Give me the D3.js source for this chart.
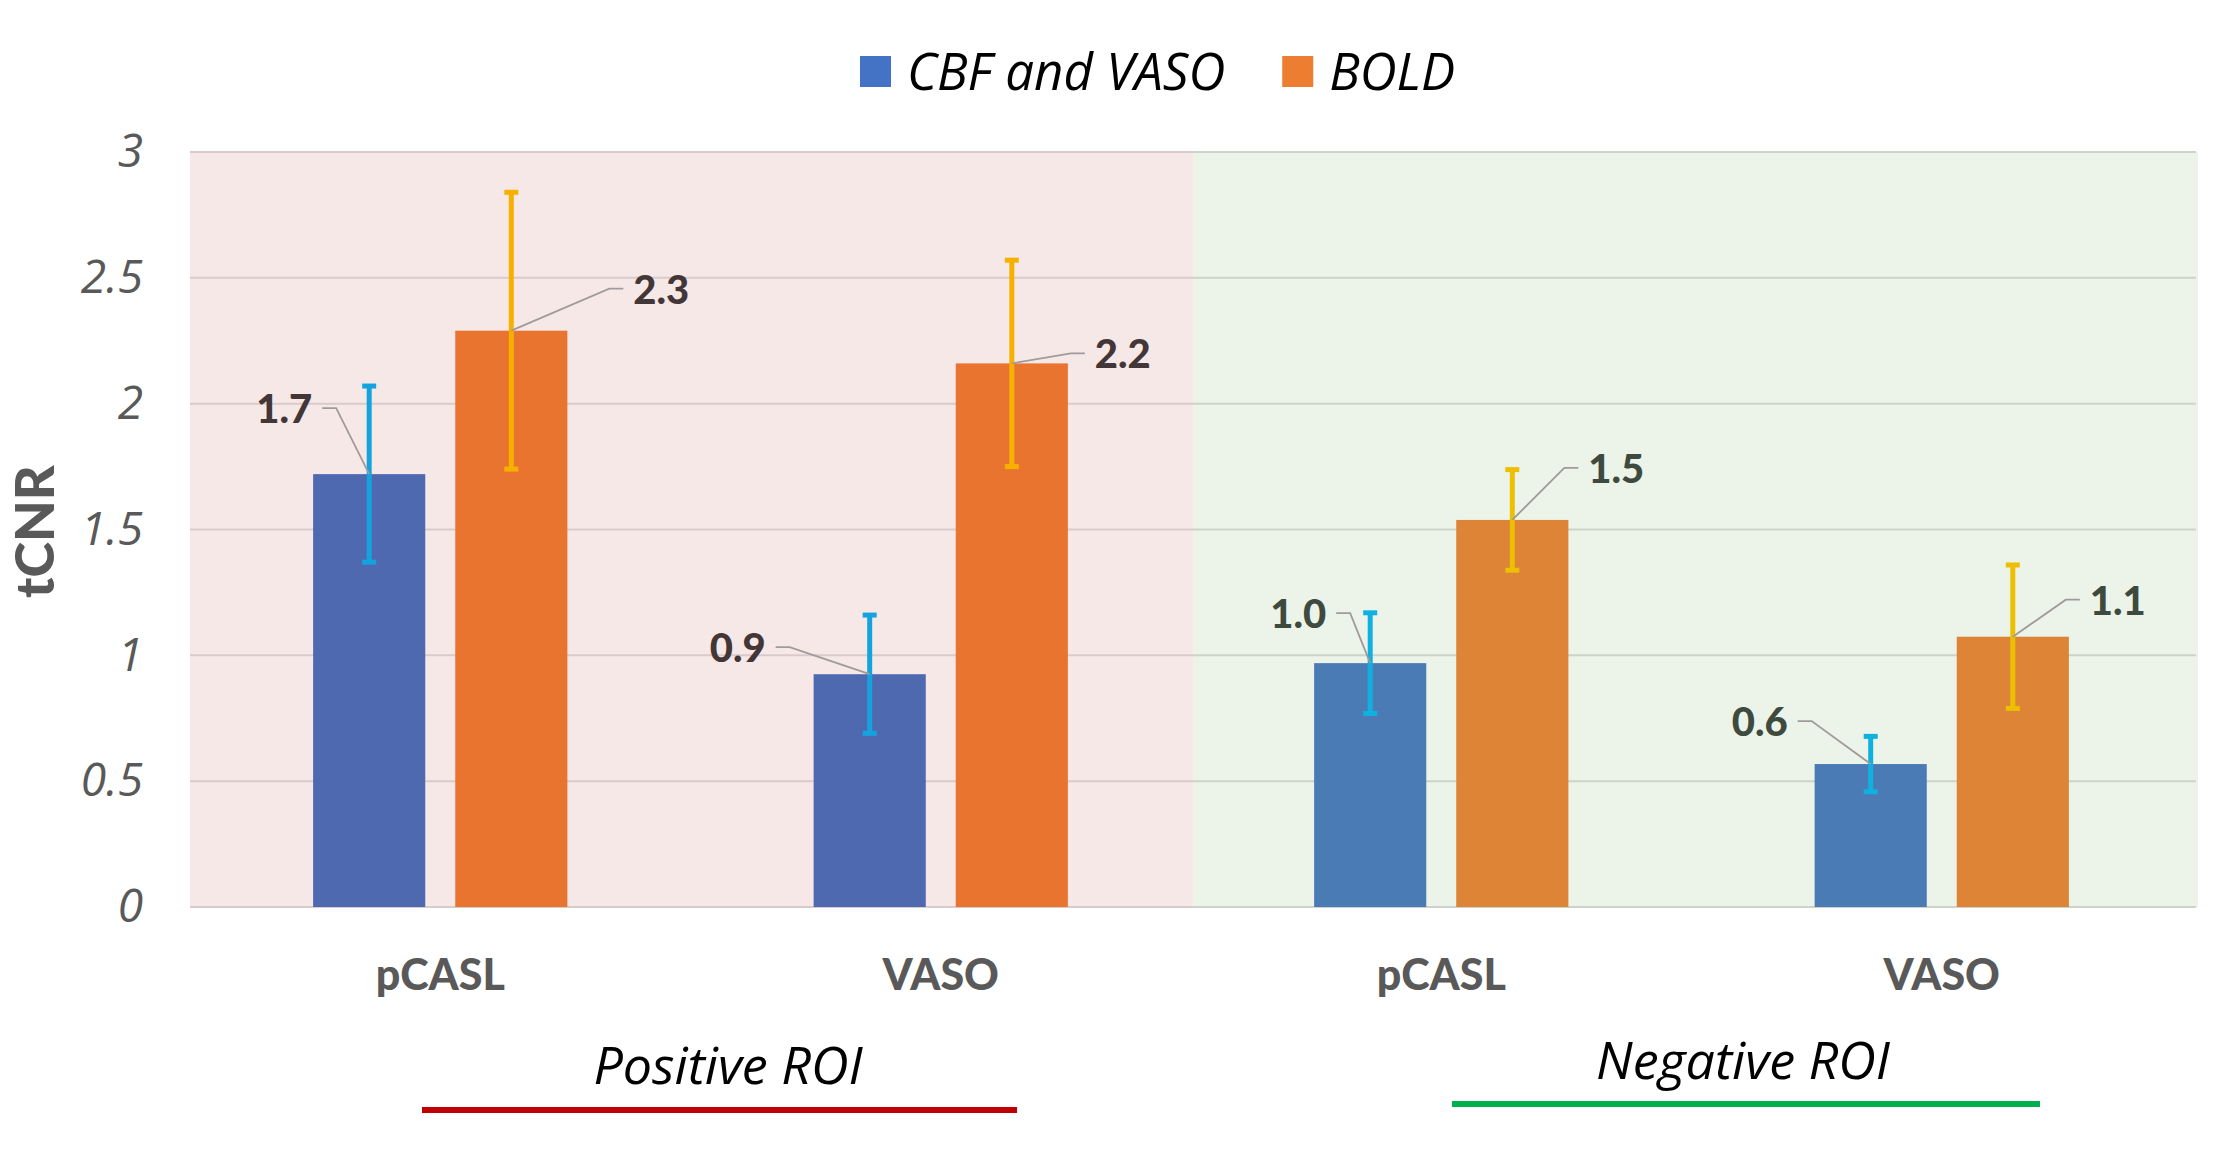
<!DOCTYPE html>
<html>
<head>
<meta charset="utf-8">
<script src="https://cdn.jsdelivr.net/npm/d3@7"></script>
<style>
  body { margin: 0; background: #fff; }
  svg { display: block; }
</style>
</head>
<body>
<div id="chart"></div>
<script>
// data
const categories = ["pCASL", "VASO", "pCASL", "VASO"]
const groups = ["Positive ROI", "Negative ROI"]
const series = ["CBF and VASO", "BOLD"]
const cbfValues = [1.72, 0.925, 0.969, 0.568]
const boldValues = [2.29, 2.16, 1.538, 1.074]
const cbfErrors = [0.35, 0.235, 0.2, 0.11]
const boldErrors = [0.55, 0.41, 0.2, 0.285]
const yTicks = [0, 0.5, 1, 1.5, 2, 2.5, 3]

// manual label placement (leader elbow offset from bar top, px)
const cbfLabelOffsets = [[-33, -66], [-80, -27], [-20, -50], [-59, -43]]
const boldLabelOffsets = [[98, -42], [59, -10], [52, -52], [53, -37]]

const W = 2228, H = 1161
const margin = {top: 152, left: 190, right: 36, bottom: 254}
const width = W - margin.left - margin.right,
      height = H - margin.top - margin.bottom

// region styles: pink for positive ROI, green for negative ROI
const region = [
  {bg: "#f7e8e8", grid: "#d9cbcb", bar: ["#4f69b0", "#e97430"], err: ["#14a3dd", "#f8b000"], text: "#433637", line: "#c00000"},
  {bg: "#ecf3e8", grid: "#ccd3c9", bar: ["#4a7bb5", "#dd8436"], err: ["#10b1e0", "#ecbf00"], text: "#3f4a3f", line: "#00b050"}
]
const regionOf = i => i < 2 ? 0 : 1

const rows = categories.map((c, i) => ({
  i, cat: c, region: regionOf(i),
  vals: [cbfValues[i], boldValues[i]],
  errs: [cbfErrors[i], boldErrors[i]],
  offs: [cbfLabelOffsets[i], boldLabelOffsets[i]]
}))

const svg = d3.select("#chart").append("svg")
  .attr("width", W).attr("height", H)

const g = svg.append("g")
  .attr("transform", "translate(" + margin.left + "," + margin.top + ")")

const x0 = d3.scaleBand()
  .domain(d3.range(categories.length))
  .range([0, width])
  .padding(0)

const x1 = d3.scaleBand()
  .domain(series)
  .range([x0.bandwidth() * 0.246, x0.bandwidth() * 0.754])
  .paddingInner(0.211)

const y = d3.scaleLinear()
  .domain([0, 3])
  .range([height, 0])

// backgrounds
g.append("rect")
  .attr("x", 0).attr("y", 0)
  .attr("width", x0(2) + 2).attr("height", height)
  .attr("fill", region[0].bg)
g.append("rect")
  .attr("x", x0(2) + 2).attr("y", 0)
  .attr("width", width - x0(2) + 4).attr("height", height)
  .attr("fill", region[1].bg)

// gridlines
yTicks.forEach(t => {
  g.append("line")
    .attr("x1", 0).attr("x2", x0(2) + 2)
    .attr("y1", y(t)).attr("y2", y(t))
    .attr("stroke", region[0].grid).attr("stroke-width", 2)
  g.append("line")
    .attr("x1", x0(2) + 2).attr("x2", width + 4)
    .attr("y1", y(t)).attr("y2", y(t))
    .attr("stroke", region[1].grid).attr("stroke-width", 2)
})

// y axis
const yAxis = d3.axisLeft(y)
  .tickValues(yTicks)
  .tickSize(0)
  .tickPadding(47)
  .tickFormat(d => d)

g.append("g")
  .attr("class", "y axis")
  .call(yAxis)
  .call(a => a.select(".domain").remove())
  .selectAll("text")
    .attr("fill", "#595959")
    .style("font-family", "'Open Sans', sans-serif")
    .style("font-style", "italic")
    .style("font-size", "46px")

svg.append("text")
  .attr("transform", "translate(54," + (margin.top + height * 0.5 + 2) + ") rotate(-90)")
  .attr("text-anchor", "middle")
  .attr("fill", "#595959")
  .style("font-family", "Lato, sans-serif")
  .style("font-weight", "900")
  .style("font-size", "54px")
  .text("tCNR")

// x axis labels
const xAxis = d3.axisBottom(x0)
  .tickSize(0)
  .tickPadding(52)
  .tickFormat(i => categories[i])

g.append("g")
  .attr("class", "x axis")
  .attr("transform", "translate(0," + height + ")")
  .call(xAxis)
  .call(a => a.select(".domain").remove())
  .selectAll("text")
    .attr("fill", "#595959")
    .style("font-family", "Lato, sans-serif")
    .style("font-weight", "900")
    .style("font-size", "43px")

// bars
const cat = g.selectAll(".cat")
  .data(rows)
  .enter().append("g")
  .attr("class", "cat")
  .attr("transform", d => "translate(" + x0(d.i) + ",0)")

const items = cat.selectAll(".item")
  .data(d => series.map((s, k) => ({s, k, v: d.vals[k], e: d.errs[k], off: d.offs[k], r: region[d.region]})))
  .enter().append("g")
  .attr("class", "item")

items.append("rect")
  .attr("class", "bar")
  .attr("x", d => x1(d.s))
  .attr("width", x1.bandwidth())
  .attr("y", d => y(d.v))
  .attr("height", d => height - y(d.v))
  .attr("fill", d => d.r.bar[d.k])

// error bars
const cx = d => x1(d.s) + x1.bandwidth() / 2
items.append("line")
  .attr("x1", cx).attr("x2", cx)
  .attr("y1", d => y(d.v + d.e)).attr("y2", d => y(d.v - d.e))
  .attr("stroke", d => d.r.err[d.k]).attr("stroke-width", 5)
items.append("line")
  .attr("x1", d => cx(d) - 7).attr("x2", d => cx(d) + 7)
  .attr("y1", d => y(d.v + d.e)).attr("y2", d => y(d.v + d.e))
  .attr("stroke", d => d.r.err[d.k]).attr("stroke-width", 5)
items.append("line")
  .attr("x1", d => cx(d) - 7).attr("x2", d => cx(d) + 7)
  .attr("y1", d => y(d.v - d.e)).attr("y2", d => y(d.v - d.e))
  .attr("stroke", d => d.r.err[d.k]).attr("stroke-width", 5)

// leader lines + value labels
const dir = d => d.k === 0 ? -1 : 1
items.append("polyline")
  .attr("points", d => {
    const bx = cx(d), by = y(d.v)
    const ex = bx + d.off[0], ey = by + d.off[1]
    return [[bx, by], [ex, ey], [ex + dir(d) * 14, ey]].map(p => p.join(",")).join(" ")
  })
  .attr("fill", "none")
  .attr("stroke", "#a09a9a")
  .attr("stroke-width", 1.8)

items.append("text")
  .attr("x", d => cx(d) + d.off[0] + dir(d) * 24)
  .attr("y", d => y(d.v) + d.off[1] + 15)
  .attr("text-anchor", d => d.k === 0 ? "end" : "start")
  .attr("fill", d => d.r.text)
  .style("font-family", "Lato, sans-serif")
  .style("font-weight", "900")
  .style("font-size", "40px")
  .text(d => d3.format(".1f")(d.v))

// group labels with coloured underline
const groupCenters = [728, 1743]
const groupLines = [[422, 1017, 1110], [1452, 2040, 1104]]
groups.forEach((name, gi) => {
  svg.append("text")
    .attr("x", groupCenters[gi])
    .attr("y", gi === 0 ? 1084 : 1079)
    .attr("text-anchor", "middle")
    .attr("fill", "#000")
    .style("font-family", "'Open Sans', sans-serif")
    .style("font-style", "italic")
    .style("font-size", "52px")
    .text(name)
  svg.append("line")
    .attr("x1", groupLines[gi][0]).attr("x2", groupLines[gi][1])
    .attr("y1", groupLines[gi][2]).attr("y2", groupLines[gi][2])
    .attr("stroke", region[gi].line)
    .attr("stroke-width", 6)
})

// legend
const legendColors = ["#4472c4", "#ed7d31"]
const legend = svg.append("g").attr("transform", "translate(860,56)")
let lx = 0
series.forEach((s, k) => {
  legend.append("rect")
    .attr("x", lx).attr("y", 0)
    .attr("width", 31).attr("height", 31)
    .attr("fill", legendColors[k])
  const t = legend.append("text")
    .attr("x", lx + 47).attr("y", 34)
    .attr("fill", "#000")
    .style("font-family", "'Open Sans', sans-serif")
    .style("font-style", "italic")
    .style("font-size", "51px")
    .text(s)
  lx += 47 + t.node().getComputedTextLength() + 57
})
</script>
</body>
</html>
